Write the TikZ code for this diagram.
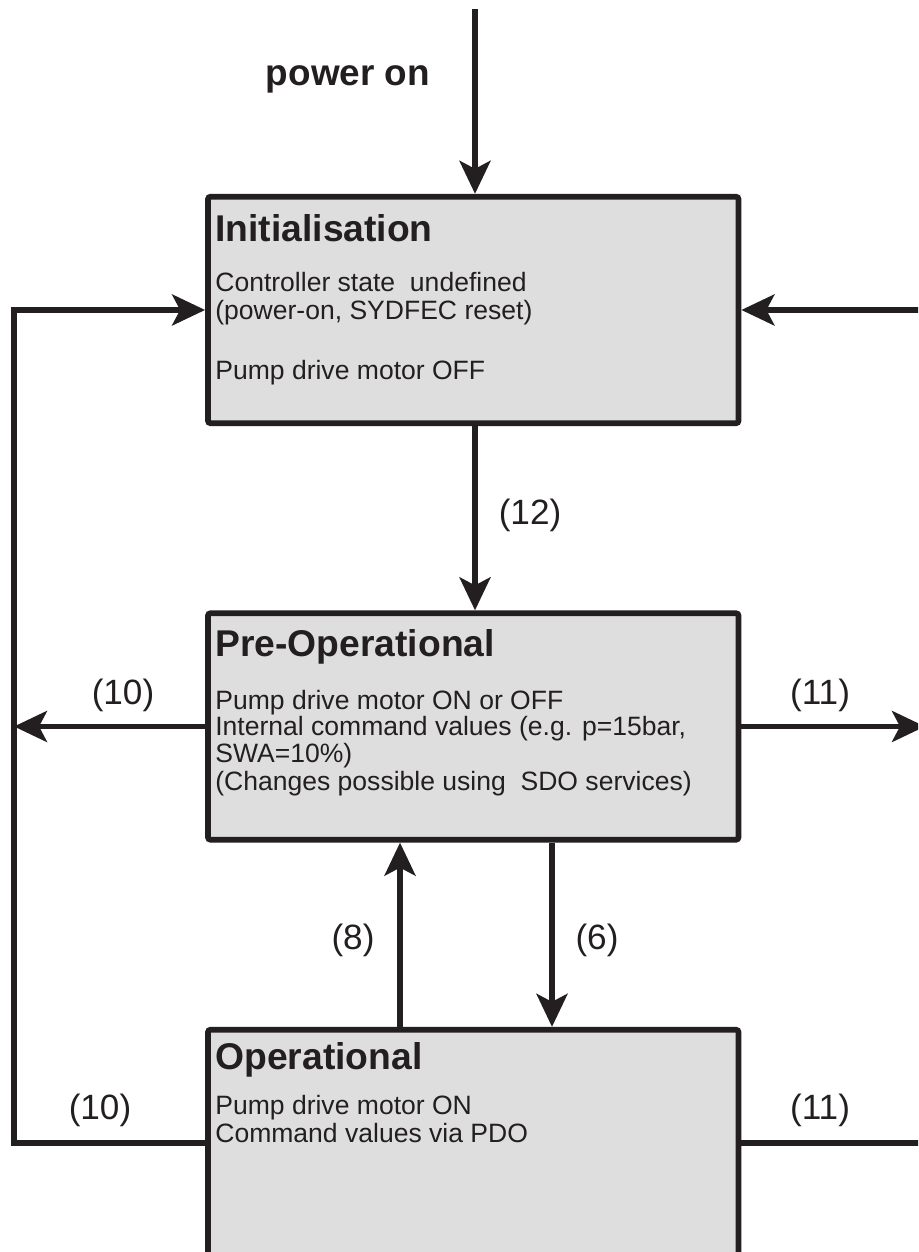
\documentclass[tikz,border=0pt]{standalone}
\usepackage{fontspec}
\setmainfont{Liberation Sans}
\usetikzlibrary{arrows.meta}

\definecolor{ink}{RGB}{35,31,32}
\definecolor{statefill}{RGB}{222,222,222}

\tikzset{
	state/.style={draw=ink, fill=statefill, line width=3.3pt, rounded corners=1.5pt,
		minimum width=10.61cm, minimum height=4.53cm},
	statehead/.style={anchor=base west, inner sep=0pt, text=ink,
		font=\fontsize{21.2}{25}\selectfont\bfseries},
	statetext/.style={anchor=base west, inner sep=0pt, text=ink,
		font=\fontsize{15.1}{18}\selectfont},
	trans/.style={inner sep=0pt, text=ink, font=\fontsize{20}{24}\selectfont},
	flow/.style={draw=ink, line width=3pt, -{Stealth[length=0.66cm, width=0.62cm, inset=0.16cm]}},
}

\begin{document}
\begin{tikzpicture}
	\useasboundingbox (0, 0) rectangle (18.36, 25.04);
	\clip (0, 0) rectangle (18.36, 25.04);
	
	\node[state] (init) at (9.465, 18.84) {};
	\node[state] (preop) at (9.465, 10.51) {};
	\node[state] (op) at (9.465, 2.18) {};
	
	\node[statehead] (init-head) at (4.30, 20.20) {Initialisation};
	\node[statetext] (init-l1) at (4.30, 19.20) {Controller state\ \ undefined};
	\node[statetext] (init-l2) at (4.30, 18.64) {(power-on, SYDFEC reset)};
	\node[statetext] (init-l3) at (4.30, 17.44) {Pump drive motor OFF};
	
	\node[statehead] (preop-head) at (4.30, 11.90) {Pre-Operational};
	\node[statetext] (preop-l1) at (4.30, 10.85) {Pump drive motor ON or OFF};
	\node[statetext] (preop-l2) at (4.30, 10.32) {Internal command values (e.g. p=15bar,};
	\node[statetext] (preop-l3) at (4.30, 9.79) {SWA=10\%)};
	\node[statetext] (preop-l4) at (4.30, 9.23) {(Changes possible using\ \ SDO services)};
	
	\node[statehead] (op-head) at (4.30, 3.64) {Operational};
	\node[statetext] (op-l1) at (4.30, 2.74) {Pump drive motor ON};
	\node[statetext] (op-l2) at (4.30, 2.18) {Command values via PDO};
	
	\coordinate (power) at (9.50, 24.86);
	\coordinate (up) at (8.00, 0);
	\coordinate (down) at (11.04, 0);
	\coordinate (left) at (0.28, 0);
	\coordinate (right) at (18.50, 0);
	
	\draw[flow] (power) -- (power |- init.north);
	\draw[flow] (power |- init.south) -- (power |- preop.north);
	\draw[flow] (up |- op.north) -- (up |- preop.south);
	\draw[flow] (down |- preop.south) -- (down |- op.north);
	
	\draw[flow] (preop.west) -- (left |- preop.west);
	\draw[flow] (preop.east) -- (right |- preop.east);
	\draw[flow] (op.west) -| (left |- init.west) -- (init.west);
	\draw[flow] (op.east) -| (right |- init.east) -- (init.east);
	
	\node[trans, anchor=base, font=\fontsize{21}{25}\selectfont\bfseries] (power-label) at (6.96, 23.32) {power on};
	\node[trans] (t12) at (10.60, 14.74) {(12)};
	\node[trans] (t10a) at (2.46, 11.14) {(10)};
	\node[trans] (t11a) at (16.40, 11.14) {(11)};
	\node[trans] (t8) at (7.06, 6.24) {(8)};
	\node[trans] (t6) at (11.94, 6.24) {(6)};
	\node[trans] (t10b) at (2.00, 2.84) {(10)};
	\node[trans] (t11b) at (16.40, 2.84) {(11)};
\end{tikzpicture}
\end{document}
